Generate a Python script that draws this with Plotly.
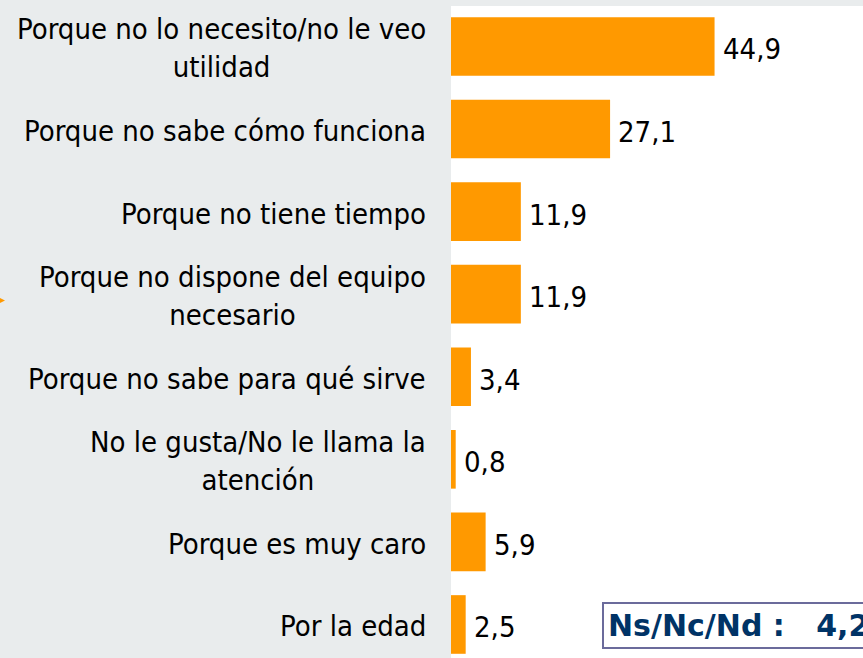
import plotly.graph_objects as go

categories = [
    "Porque no lo necesito/no le veo<br>utilidad",
    "Porque no sabe cómo funciona",
    "Porque no tiene tiempo",
    "Porque no dispone del equipo<br>necesario",
    "Porque no sabe para qué sirve",
    "No le gusta/No le llama la<br>atención",
    "Porque es muy caro",
    "Por la edad",
]
values = [44.9, 27.1, 11.9, 11.9, 3.4, 0.8, 5.9, 2.5]
nsnc_label = "Ns/Nc/Nd :"
nsnc_value = 4.2

FONT = "DejaVu Sans Condensed, DejaVu Sans, sans-serif"
BAR_COLOR = "#ff9900"
GREY = "#e9eced"

W, H = 863, 658
ML, MT = 451, 6
PW, PH = W - ML, H - MT

def fmt(v):
    return f"{v:.1f}".replace(".", ",")

fig = go.Figure()
fig.add_trace(go.Bar(
    x=values, y=categories, orientation="h",
    marker=dict(color=BAR_COLOR, line=dict(width=0)),
    width=0.71, hoverinfo="skip",
))

annotations = []
for c in categories:
    annotations.append(dict(
        x=0, xref="paper", y=c, yref="y", xanchor="right", yanchor="middle",
        xshift=-23, yshift=-2, text=c, showarrow=False, align="center",
        font=dict(family=FONT, size=29, color="#000000"),
    ))
for c, v in zip(categories, values):
    annotations.append(dict(
        x=v, xref="x", y=c, yref="y", xanchor="left", yanchor="middle",
        xshift=6, yshift=-3, text=fmt(v), showarrow=False,
        font=dict(family=FONT, size=29, color="#000000"),
    ))
annotations.append(dict(
    x=(602 - ML) / PW, xref="paper", y=(H - 625) / PH, yref="paper",
    xanchor="left", yanchor="middle", showarrow=False,
    text=f"<b>{nsnc_label}&nbsp;&nbsp;&nbsp;{fmt(nsnc_value)}&nbsp;&nbsp;&nbsp;&nbsp;</b>",
    font=dict(family="DejaVu Sans, sans-serif", size=30, color="#003366"),
    bgcolor="#ffffff", bordercolor="#6b6b9b", borderwidth=2, borderpad=4,
))

fig.update_layout(
    width=W, height=H,
    margin=dict(l=ML, r=0, t=MT, b=0, pad=0),
    paper_bgcolor=GREY, plot_bgcolor="#ffffff",
    showlegend=False,
    xaxis=dict(range=[0, PW / 5.87], visible=False, fixedrange=True),
    yaxis=dict(range=[7.406, -0.49], showticklabels=False, showgrid=False,
               zeroline=False, showline=False, ticks="", fixedrange=True),
    annotations=annotations,
    shapes=[dict(
        type="path", xref="paper", yref="paper", fillcolor=BAR_COLOR,
        line=dict(width=0),
        path=f"M {(-4 - ML) / PW},{(H - 296) / PH} L {(5 - ML) / PW},{(H - 300.5) / PH} "
             f"L {(-4 - ML) / PW},{(H - 305) / PH} Z",
    )],
)

fig.write_html(
    "out.html",
    config={"displayModeBar": False},
    post_script="document.body.style.margin='0px';document.body.style.overflow='hidden';",
)
